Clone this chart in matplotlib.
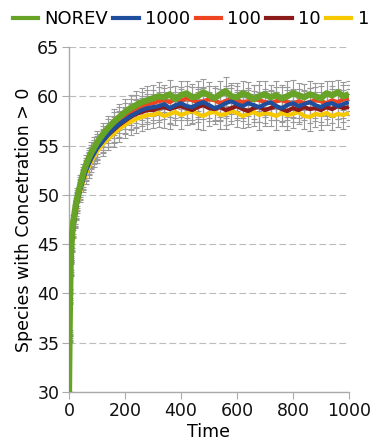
import matplotlib
matplotlib.use("Agg")
import matplotlib.pyplot as plt
from matplotlib.lines import Line2D

plt.rcParams['font.family'] = ['DejaVu Sans']

time = [0, 2, 4, 6, 8, 10, 15, 20, 25, 30, 40, 50, 60, 70, 80, 90, 100] + list(range(120, 1001, 20))

norev = [30, 36, 40, 43, 44.5, 45.7, 47.2, 48.2, 49.1, 49.8, 51, 52.1, 53.0, 53.7, 54.3, 54.8, 55.3,
         56.1, 56.8, 57.4, 57.9, 58.4, 58.8, 59.1, 59.4, 59.6,
         59.8, 60.0, 59.9, 60.2, 59.7, 60.1, 60.3, 59.9, 60.0, 60.4, 60.1, 59.8, 60.2, 60.5, 60.0, 59.9,
         60.3, 60.1, 59.7, 60.0, 60.2, 59.9, 60.1, 59.8, 60.0, 60.3, 60.1, 59.9, 60.2, 60.0, 59.8, 60.3,
         60.1, 60.4, 60.0, 60.2]
r1000 = [30, 35.5, 39.5, 42.5, 44, 45, 46.5, 47.5, 48.5, 49.3, 50.5, 51.5, 52.4, 53.1, 53.7, 54.2, 54.7,
         55.4, 56.1, 56.7, 57.2, 57.6, 58.0, 58.3, 58.6, 58.8,
         58.9, 59.0, 59.2, 58.8, 59.1, 59.3, 59.0, 58.9, 59.2, 59.4, 59.1, 58.8, 59.0, 59.3, 59.5, 59.2,
         59.0, 59.3, 59.1, 58.9, 59.2, 59.4, 59.0, 58.8, 59.1, 59.3, 59.0, 59.2, 59.4, 59.1, 58.9, 59.2,
         59.3, 59.0, 59.2, 59.4]
r100 = [30, 35.8, 39.8, 42.8, 44.3, 45.3, 46.8, 47.8, 48.8, 49.6, 50.8, 51.8, 52.7, 53.4, 54.0, 54.5, 55.0,
        55.8, 56.5, 57.1, 57.6, 58.0, 58.4, 58.7, 59.0, 59.2,
        59.3, 59.5, 59.6, 59.4, 59.7, 59.5, 59.8, 59.6, 59.4, 59.5, 59.7, 59.6, 59.3, 59.5, 59.8, 59.6,
        59.4, 59.5, 59.7, 59.6, 59.4, 59.3, 59.5, 59.6, 59.4, 59.2, 59.5, 59.3, 59.4, 59.6, 59.5, 59.3,
        59.6, 59.4, 59.7, 59.8]
r10 = [30, 35.6, 39.6, 42.6, 44.1, 45.1, 46.6, 47.6, 48.6, 49.4, 50.6, 51.6, 52.5, 53.2, 53.8, 54.3, 54.8,
       55.5, 56.1, 56.6, 57.1, 57.5, 57.9, 58.2, 58.4, 58.6,
       58.6, 58.8, 58.9, 58.7, 58.9, 59.0, 58.8, 58.6, 58.9, 59.1, 58.8, 58.7, 58.9, 58.6, 58.8, 59.0,
       58.7, 58.5, 58.8, 58.9, 58.6, 58.8, 59.0, 58.7, 58.5, 58.8, 58.6, 58.9, 58.7, 58.8, 58.6, 58.9,
       58.7, 59.0, 58.8, 58.9]
r1 = [30, 35.4, 39.4, 42.4, 43.9, 44.9, 46.4, 47.4, 48.3, 49.1, 50.3, 51.3, 52.1, 52.8, 53.4, 53.9, 54.4,
      55.1, 55.7, 56.2, 56.7, 57.1, 57.4, 57.7, 57.9, 58.1,
      58.1, 58.3, 58.0, 58.2, 58.4, 58.1, 58.3, 58.5, 58.2, 58.0, 58.3, 58.4, 58.1, 58.2, 58.5, 58.3,
      58.0, 58.2, 58.4, 58.1, 58.3, 58.2, 58.0, 58.3, 58.1, 58.2, 58.4, 58.0, 57.9, 58.2, 58.1, 58.3,
      58.0, 58.2, 58.1, 58.3]
err = [0, 0.3, 0.5, 0.6, 0.7, 0.7, 0.8, 0.8, 0.9, 0.9, 1.0, 1.0, 1.0, 1.1, 1.1, 1.1, 1.2,
       1.2, 1.2, 1.3, 1.3, 1.3, 1.3, 1.4, 1.4, 1.4,
       1.3, 1.4, 1.2, 1.5, 1.3, 1.4, 1.2, 1.3, 1.5, 1.4, 1.3, 1.2, 1.4, 1.5, 1.3, 1.4,
       1.2, 1.3, 1.4, 1.5, 1.3, 1.2, 1.4, 1.3, 1.5, 1.4, 1.2, 1.3, 1.4, 1.3, 1.5, 1.2,
       1.4, 1.3, 1.4, 1.3]

labels = ["NOREV", "1000", "100", "10", "1"]
series = [norev, r1000, r100, r10, r1]
colors = ["#66a326", "#1f4e9c", "#ee4422", "#8b1a1a", "#f5c800"]
widths = [4.5, 3, 3, 3, 3]

fig = plt.figure(figsize=(3.78, 4.42), dpi=100)
ax = fig.add_axes([0.1825, 0.1131, 0.7405, 0.7806])

# draw in reverse so NOREV is on top
for lab, ys, c, w in reversed(list(zip(labels, series, colors, widths))):
    ax.errorbar(time, ys, yerr=err, fmt='none', ecolor='#999999', elinewidth=0.8,
                capsize=2.5, capthick=0.8, zorder=2)
    ax.plot(time, ys, color=c, lw=w, zorder=3, solid_capstyle='butt')

ax.set_xlim(0, 1000)
ax.set_ylim(30, 65)
ax.set_yticks(range(30, 66, 5))
ax.set_xticks(range(0, 1001, 200))
ax.yaxis.grid(True, color='#bbbbbb', linestyle=(0, (6, 3)), lw=0.8)
ax.set_axisbelow(True)
for s in ['top', 'right']:
    ax.spines[s].set_visible(False)
for s in ['left', 'bottom']:
    ax.spines[s].set_color('#aaaaaa')
    ax.spines[s].set_linewidth(1.0)
ax.tick_params(axis='both', colors='#aaaaaa', labelcolor='#111111', labelsize=12.5, length=5, pad=2)
ax.set_xlabel("Time", fontsize=12.5, labelpad=2)
ax.set_ylabel("Species with Concetration > 0", fontsize=12.5, labelpad=3)

handles = [Line2D([0], [0], color=c, lw=3) for c in colors]
fig.legend(handles, labels, loc='upper center', bbox_to_anchor=(0.505, 1.0), ncol=5,
           frameon=False, fontsize=13, handlelength=1.4, handletextpad=0.35,
           columnspacing=0.3, borderaxespad=0.15)

fig.savefig("out.png", dpi=100)
